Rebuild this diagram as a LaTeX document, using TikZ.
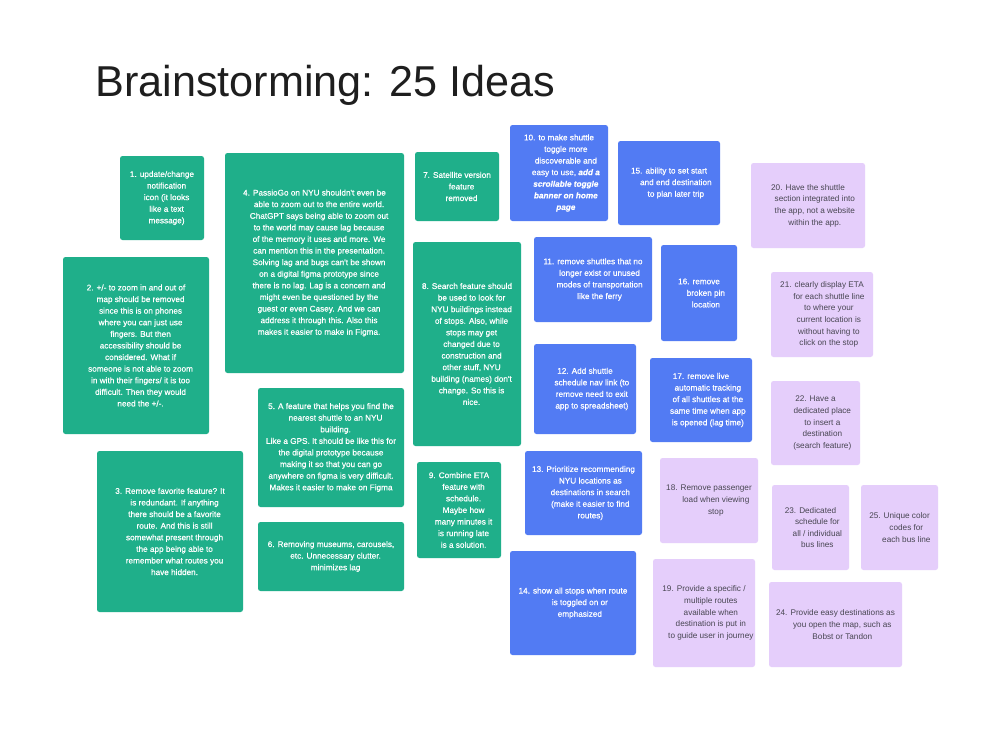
\documentclass[tikz,border=0pt]{standalone}
\usepackage{fontspec}
\setmainfont{Liberation Sans}
\newfontfamily\medsans[FakeBold=0.6]{Liberation Sans}
\definecolor{ideagreen}{RGB}{31,175,138}
\definecolor{ideablue}{RGB}{82,123,243}
\definecolor{ideapurple}{RGB}{229,206,251}
\definecolor{purpletext}{RGB}{72,70,82}
\definecolor{titlecol}{RGB}{30,30,30}
\newcommand\ind[1]{\phantom{#1\ }}
\tikzset{
  card/.style={rectangle, rounded corners=2.5pt, inner sep=0pt, align=center,
    font=\fontsize{8.2}{11.6}\selectfont},
  greencard/.style={card, fill=ideagreen, text=white, font=\medsans\fontsize{8.2}{11.6}\selectfont},
  bluecard/.style={card, fill=ideablue, text=white, font=\medsans\fontsize{8.2}{11.6}\selectfont},
  purplecard/.style={card, fill=ideapurple, text=purpletext},
}
\begin{document}
\begin{tikzpicture}[x=1pt,y=-1pt]
\path[use as bounding box, fill=white] (0,0) rectangle (1000,729);
\node[anchor=base west, inner sep=0pt, text=titlecol, font=\fontsize{43.2}{50}\selectfont] (title) at (95,96) {Brainstorming: 25 Ideas};

\node[greencard, minimum width=84pt, minimum height=84pt] (i1) at (162,198)
 {1. update/change\\\ind{1.}notification\\\ind{1.}icon (it looks\\\ind{1.}like a text\\\ind{1.}message)};
\node[greencard, minimum width=146pt, minimum height=177pt] (i2) at (136,345.5)
 {2. +/- to zoom in and out of\\\ind{2.}map should be removed\\\ind{2.}since this is on phones\\\ind{2.}where you can just use\\\ind{2.}fingers. But then\\\ind{2.}accessibility should be\\\ind{2.}considered. What if\\\ind{2.}someone is not able to zoom\\\ind{2.}in with their fingers/ it is too\\\ind{2.}difficult. Then they would\\\ind{2.}need the +/-.};
\node[greencard, minimum width=146pt, minimum height=161pt] (i3) at (170,531.5)
 {3. Remove favorite feature? It\\\ind{3.}is redundant. If anything\\\ind{3.}there should be a favorite\\\ind{3.}route. And this is still\\\ind{3.}somewhat present through\\\ind{3.}the app being able to\\\ind{3.}remember what routes you\\\ind{3.}have hidden.};
\node[greencard, minimum width=179pt, minimum height=220pt] (i4) at (314.5,263)
 {4. PassioGo on NYU shouldn't even be\\\ind{4.}able to zoom out to the entire world.\\\ind{4.}ChatGPT says being able to zoom out\\\ind{4.}to the world may cause lag because\\\ind{4.}of the memory it uses and more. We\\\ind{4.}can mention this in the presentation.\\\ind{4.}Solving lag and bugs can't be shown\\\ind{4.}on a digital figma prototype since\\\ind{4.}there is no lag. Lag is a concern and\\\ind{4.}might even be questioned by the\\\ind{4.}guest or even Casey. And we can\\\ind{4.}address it through this. Also this\\\ind{4.}makes it easier to make in Figma.};
\node[greencard, minimum width=146pt, minimum height=119pt] (i5) at (331,447.5)
 {5. A feature that helps you find the\\\ind{5.}nearest shuttle to an NYU\\\ind{5.}building.\\Like a GPS. It should be like this for\\the digital prototype because\\making it so that you can go\\anywhere on figma is very difficult.\\Makes it easier to make on Figma};
\node[greencard, minimum width=146pt, minimum height=69pt] (i6) at (331,556.5)
 {6. Removing museums, carousels,\\\ind{6.}etc. Unnecessary clutter.\\\ind{6.}minimizes lag};
\node[greencard, minimum width=84pt, minimum height=69pt] (i7) at (457,186.5)
 {7. Satellite version\\\ind{7.}feature\\\ind{7.}removed};
\node[greencard, minimum width=108pt, minimum height=204pt] (i8) at (467,344)
 {8. Search feature should\\\ind{8.}be used to look for\\\ind{8.}NYU buildings instead\\\ind{8.}of stops. Also, while\\\ind{8.}stops may get\\\ind{8.}changed due to\\\ind{8.}construction and\\\ind{8.}other stuff, NYU\\\ind{8.}building (names) don't\\\ind{8.}change. So this is\\\ind{8.}nice.};
\node[greencard, minimum width=84pt, minimum height=96pt] (i9) at (459,510)
 {9. Combine ETA\\\ind{9.}feature with\\\ind{9.}schedule.\\\ind{9.}Maybe how\\\ind{9.}many minutes it\\\ind{9.}is running late\\\ind{9.}is a solution.};

\node[bluecard, minimum width=98pt, minimum height=96pt] (i10) at (559,173)
 {10. to make shuttle\\\ind{10.}toggle more\\\ind{10.}discoverable and\\\ind{10.}easy to use, \textbf{\textit{add a}}\\\ind{10.}\textbf{\textit{scrollable toggle}}\\\ind{10.}\textbf{\textit{banner on home}}\\\ind{10.}\textbf{\textit{page}}};
\node[bluecard, minimum width=118pt, minimum height=85pt] (i11) at (593,279.5)
 {11. remove shuttles that no\\\ind{11.}longer exist or unused\\\ind{11.}modes of transportation\\\ind{11.}like the ferry};
\node[bluecard, minimum width=102pt, minimum height=90pt] (i12) at (585,389)
 {12. Add shuttle\\\ind{12.}schedule nav link (to\\\ind{12.}remove need to exit\\\ind{12.}app to spreadsheet)};
\node[bluecard, minimum width=117pt, minimum height=84pt] (i13) at (583.5,493)
 {13. Prioritize recommending\\\ind{13.}NYU locations as\\\ind{13.}destinations in search\\\ind{13.}(make it easier to find\\\ind{13.}routes)};
\node[bluecard, minimum width=126pt, minimum height=104pt] (i14) at (573,603)
 {14. show all stops when route\\\ind{14.}is toggled on or\\\ind{14.}emphasized};
\node[bluecard, minimum width=102pt, minimum height=84pt] (i15) at (669,183)
 {15. ability to set start\\\ind{15.}and end destination\\\ind{15.}to plan later trip};
\node[bluecard, minimum width=76pt, minimum height=96pt] (i16) at (699,293)
 {16. remove\\\ind{16.}broken pin\\\ind{16.}location};
\node[bluecard, minimum width=102pt, minimum height=84pt] (i17) at (701,400)
 {17. remove live\\\ind{17.}automatic tracking\\\ind{17.}of all shuttles at the\\\ind{17.}same time when app\\\ind{17.}is opened (lag time)};

\node[purplecard, minimum width=98pt, minimum height=85pt] (i18) at (709,500.5)
 {18. Remove passenger\\\ind{18.}load when viewing\\\ind{18.}stop};
\node[purplecard, minimum width=102pt, minimum height=108pt] (i19) at (704,613)
 {19. Provide a specific /\\\ind{19.}multiple routes\\\ind{19.}available when\\\ind{19.}destination is put in\\\ind{19.}to guide user in journey};
\node[purplecard, minimum width=114pt, minimum height=85pt] (i20) at (808,205.5)
 {20. Have the shuttle\\\ind{20.}section integrated into\\\ind{20.}the app, not a website\\\ind{20.}within the app.};
\node[purplecard, minimum width=102pt, minimum height=85pt] (i21) at (822,314.5)
 {21. clearly display ETA\\\ind{21.}for each shuttle line\\\ind{21.}to where your\\\ind{21.}current location is\\\ind{21.}without having to\\\ind{21.}click on the stop};
\node[purplecard, minimum width=89pt, minimum height=84pt] (i22) at (815.5,423)
 {22. Have a\\\ind{22.}dedicated place\\\ind{22.}to insert a\\\ind{22.}destination\\\ind{22.}(search feature)};
\node[purplecard, minimum width=77pt, minimum height=85pt] (i23) at (810.5,527.5)
 {23. Dedicated\\\ind{23.}schedule for\\\ind{23.}all / individual\\\ind{23.}bus lines};
\node[purplecard, minimum width=133pt, minimum height=85pt] (i24) at (835.5,624.5)
 {24. Provide easy destinations as\\\ind{24.}you open the map, such as\\\ind{24.}Bobst or Tandon};
\node[purplecard, minimum width=77pt, minimum height=85pt] (i25) at (899.5,527.5)
 {25. Unique color\\\ind{25.}codes for\\\ind{25.}each bus line};
\end{tikzpicture}
\end{document}
